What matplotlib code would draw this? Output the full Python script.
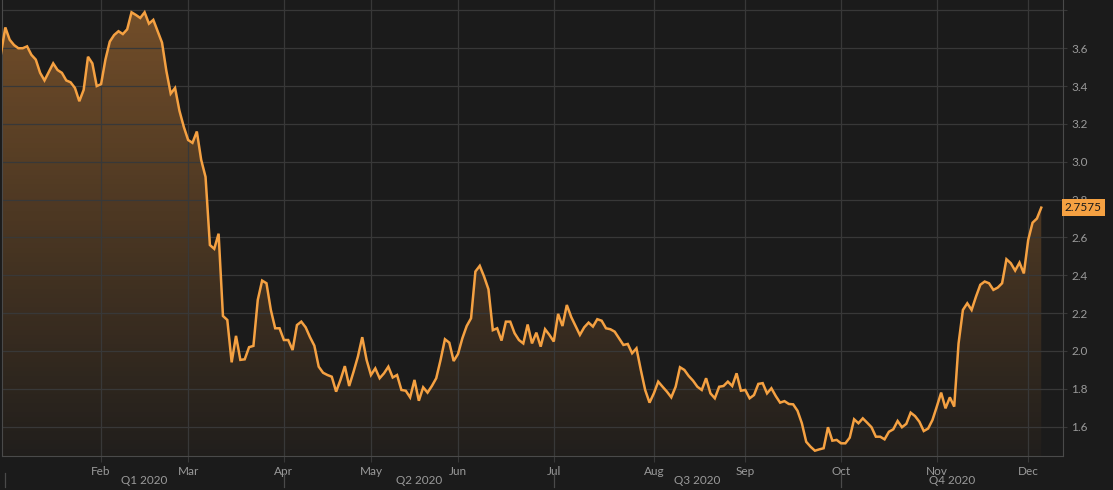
import matplotlib
matplotlib.use("Agg")
import matplotlib.pyplot as plt
import matplotlib.transforms as mtransforms
from matplotlib.patches import Polygon
import numpy as np

# daily closes, one per trading day (first one sits just left of the frame)
first_day = -1
closes = [
    3.57, 3.71, 3.645, 3.617, 3.60, 3.60, 3.61, 3.565, 3.54, 3.47,
    3.43, 3.475, 3.52, 3.485, 3.47, 3.43, 3.42, 3.39, 3.32, 3.38,
    3.555, 3.52, 3.40, 3.41, 3.54, 3.635, 3.67, 3.69, 3.675, 3.70,
    3.79, 3.776, 3.76, 3.79, 3.73, 3.75, 3.69, 3.63, 3.48, 3.36,
    3.39, 3.27, 3.185, 3.115, 3.10, 3.16, 3.01, 2.92, 2.56, 2.54,
    2.62, 2.185, 2.164, 1.94, 2.08, 1.953, 1.956, 2.02, 2.027, 2.27,
    2.372, 2.358, 2.217, 2.12, 2.12, 2.058, 2.058, 2.005, 2.137, 2.155,
    2.125, 2.073, 2.028, 1.917, 1.885, 1.873, 1.864, 1.785, 1.847, 1.92,
    1.815, 1.89, 1.97, 2.073, 1.953, 1.873, 1.908, 1.856, 1.882, 1.917,
    1.86, 1.873, 1.794, 1.79, 1.755, 1.847, 1.737, 1.808, 1.78, 1.815,
    1.856, 1.953, 2.062, 2.044, 1.947, 1.984, 2.067, 2.132, 2.173, 2.42,
    2.45, 2.393, 2.326, 2.11, 2.12, 2.055, 2.155, 2.155, 2.094, 2.058,
    2.04, 2.14, 2.04, 2.097, 2.023, 2.115, 2.085, 2.05, 2.196, 2.132,
    2.243, 2.18, 2.132, 2.085, 2.125, 2.15, 2.129, 2.168, 2.16, 2.12,
    2.115, 2.102, 2.067, 2.032, 2.037, 1.988, 2.014, 1.90, 1.794, 1.727,
    1.776, 1.838, 1.811, 1.785, 1.755, 1.811, 1.914, 1.90, 1.868, 1.843,
    1.811, 1.794, 1.856, 1.776, 1.75, 1.811, 1.815, 1.838, 1.815, 1.882,
    1.79, 1.794, 1.75, 1.767, 1.826, 1.83, 1.776, 1.803, 1.762, 1.727,
    1.735, 1.72, 1.718, 1.684, 1.618, 1.52, 1.494, 1.473, 1.48, 1.486,
    1.597, 1.526, 1.53, 1.512, 1.512, 1.542, 1.639, 1.618, 1.644, 1.621,
    1.597, 1.547, 1.547, 1.533, 1.573, 1.586, 1.63, 1.597, 1.615, 1.674,
    1.656, 1.626, 1.577, 1.59, 1.635, 1.706, 1.78, 1.697, 1.755, 1.706,
    2.04, 2.217, 2.252, 2.217, 2.287, 2.35, 2.367, 2.358, 2.323, 2.335,
    2.358, 2.485, 2.464, 2.425, 2.467, 2.41, 2.587, 2.678, 2.70, 2.7575,
]

# first trading day of each month (index into the series)
month_labels = ["Feb", "Mar", "Apr", "May", "Jun", "Jul", "Aug", "Sep", "Oct", "Nov", "Dec"]
month_days = [22, 42, 64, 84, 104, 126, 149, 170, 192, 214, 235]
quarter_labels = ["Q1 2020", "Q2 2020", "Q3 2020", "Q4 2020"]
quarter_days = [0, 64, 126, 192]
y_ticks = [1.6, 1.8, 2.0, 2.2, 2.4, 2.6, 2.8, 3.0, 3.2, 3.4, 3.6, 3.8]
last_label = "2.7575"

BG = "#1b1b1b"
GRID = "#383838"
TXT = "#9a9a9a"
ORANGE = "#f5a142"
plt.rcParams["font.family"] = ["Lato", "DejaVu Sans"]

x = np.arange(first_day, first_day + len(closes))
y = np.array(closes)
xmin, xmax = -0.76, 243.0
ymin, ymax = 1.445, 3.855

fig = plt.figure(figsize=(11.13, 4.9), dpi=100, facecolor=BG)
ax = fig.add_axes([0.0018, 0.0694, 0.9533, 0.9306], facecolor=BG)

# gradient fill under the line
alpha = np.linspace(0.03, 0.42, 256).reshape(-1, 1)
rgba = np.zeros((256, 1, 4))
rgba[..., 0], rgba[..., 1], rgba[..., 2] = 0.94, 0.59, 0.24
rgba[..., 3] = alpha
im = ax.imshow(rgba, extent=[xmin, xmax, ymin, ymax], origin="lower",
               aspect="auto", zorder=1, interpolation="bilinear")
verts = [(x[0], ymin)] + list(zip(x, y)) + [(x[-1], ymin)]
clip = Polygon(verts, closed=True, facecolor="none", edgecolor="none")
ax.add_patch(clip)
im.set_clip_path(clip)

ax.plot(x, y, color=ORANGE, lw=1.8, zorder=3, solid_joinstyle="miter")

ax.set_xlim(xmin, xmax)
ax.set_ylim(ymin, ymax)

ax.set_xticks(month_days, month_labels)
ax.set_yticks(y_ticks, [f"{v:.1f}" if v < 3.7 else "" for v in y_ticks])
ax.yaxis.tick_right()
ax.grid(True, color=GRID, lw=0.9, zorder=0)
ax.tick_params(axis="x", colors=GRID, length=4, pad=3, labelcolor=TXT, labelsize=8.5)
ax.tick_params(axis="y", colors=GRID, length=3, pad=3, labelcolor=TXT, labelsize=8.5)
for side in ["left", "right", "bottom"]:
    ax.spines[side].set_color("#4a4a4a")
ax.spines["top"].set_visible(False)

# quarter row
trans = mtransforms.blended_transform_factory(ax.transData, ax.transAxes)
for q in quarter_days:
    ax.plot([q, q], [-0.037, -0.068], transform=trans, color="#4a4a4a",
            lw=0.9, clip_on=False)
q_edges = quarter_days + [xmax]
for i, lab in enumerate(quarter_labels):
    ax.text((q_edges[i] + q_edges[i + 1]) / 2, -0.054, lab, transform=trans,
            ha="center", va="center", color=TXT, fontsize=8.5)

# last value tag
ytrans = mtransforms.blended_transform_factory(ax.transAxes, ax.transData)
ax.text(1.0015, y[-1], last_label, transform=ytrans, ha="left", va="center",
        color="#1a1a1a", fontsize=8.5, zorder=5,
        bbox=dict(boxstyle="square,pad=0.25", fc=ORANGE, ec="none"))

fig.savefig("out.png", dpi=100, facecolor=BG)
